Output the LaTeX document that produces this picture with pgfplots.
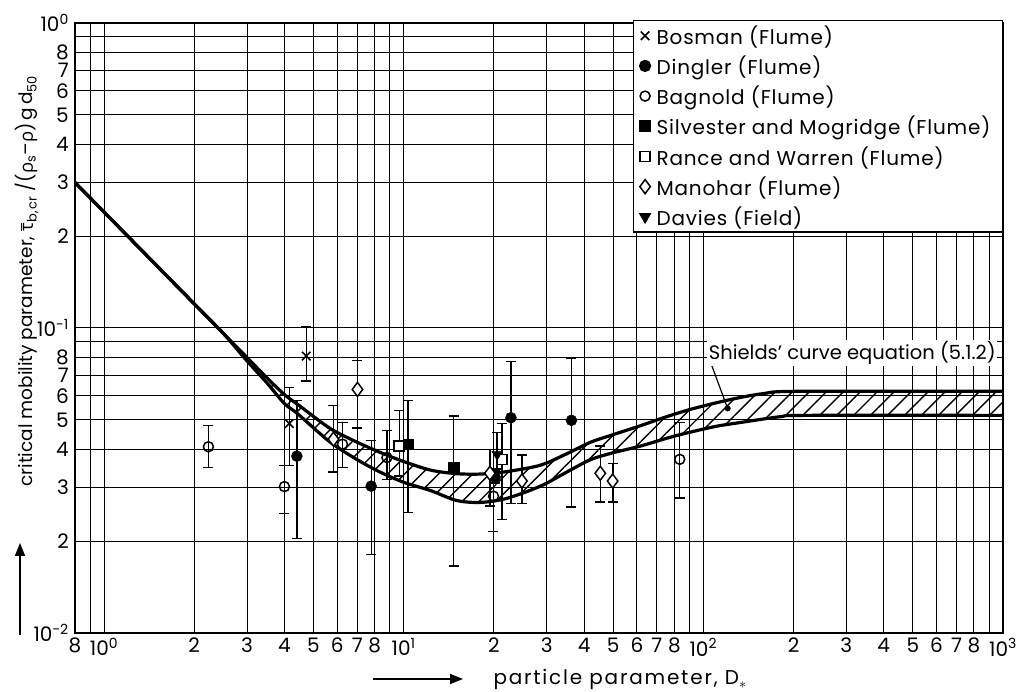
\documentclass[border=0pt]{standalone}
\usepackage{fontspec}
\setmainfont{Poppins}
\newfontfamily\wide[LetterSpace=4]{Poppins}
\newfontfamily\wider[LetterSpace=9]{Poppins}
\newfontfamily\gr{Open Sans}
\usepackage{pgfplots}
\usepackage{pgfplotstable}
\pgfplotsset{compat=1.18}
\usepgfplotslibrary{fillbetween}
\usetikzlibrary{patterns.meta,arrows.meta}
\newcommand\tp[1]{10\textsuperscript{#1}}

\pgfplotstableread{
x y lo hi
4.15 0.0486 0.0355 0.0637
4.73 0.0809 0.0670 0.1010
}\bosman
\pgfplotstableread{
x y lo hi
4.40 0.0380 0.0204 0.0579
7.79 0.0303 0.0181 0.0428
20.2 0.0324 0.0310 0.0340
22.8 0.0508 0.0266 0.0778
36.3 0.0498 0.0259 0.0793
}\dingler
\pgfplotstableread{
x y lo hi
2.23 0.0408 0.0349 0.0480
4.00 0.0302 0.0246 0.0355
6.25 0.0416 0.0349 0.0489
8.79 0.0376 0.0319 0.0462
19.94 0.0281 0.0215 0.0327
83.4 0.0371 0.0277 0.0489
}\bagnold
\pgfplotstableread{
x y lo hi
10.33 0.0416 0.0248 0.0579
14.67 0.0349 0.0166 0.0514
}\silvester
\pgfplotstableread{
x y lo hi
9.66 0.0410 0.0327 0.0537
21.28 0.0371 0.0236 0.0487
}\rance
\pgfplotstableread{
x y lo hi
5.83 0.0432 0.0337 0.0557
7.01 0.0629 0.0470 0.0782
19.4 0.0334 0.0261 0.0400
24.8 0.0315 0.0266 0.0383
45.3 0.0334 0.0269 0.0410
49.8 0.0315 0.0269 0.0360
}\manohar
\pgfplotstableread{
x y lo hi
20.5 0.0385 0.0345 0.0455
}\davies

\pgfplotstableread{
x y
0.8 0.300
1 0.240
1.5 0.160
2 0.120
2.5 0.096
3 0.080
3.5 0.0686
4 0.0605
4.5 0.0555
5.69 0.0468
7 0.0422
8.4 0.0390
10 0.0365
12.3 0.0342
15 0.0333
18 0.0332
22 0.0338
28.6 0.0355
35 0.0387
42 0.0422
50 0.0447
61.6 0.0478
75 0.0511
90.5 0.0541
110 0.0568
133 0.0592
160 0.0610
206 0.0620
1000 0.0620
}\uppercurve
\pgfplotstableread{
x y
0.8 0.300
1 0.240
1.5 0.160
2 0.120
2.5 0.096
3 0.078
3.5 0.0660
4 0.0565
4.41 0.0525
5.69 0.0422
7 0.0370
8.34 0.0337
10 0.0312
12.3 0.0293
15 0.0272
18 0.0268
22 0.0276
28.6 0.0303
35 0.0337
42 0.0370
50 0.0390
61.6 0.0410
80 0.0442
108 0.0474
133 0.0490
181 0.0512
220 0.0517
1000 0.0517
}\lowercurve

\begin{document}
\begin{tikzpicture}
\begin{axis}[
  at={(0pt,0pt)}, anchor=south west,
  scale only axis, width=928pt, height=610pt,
  xmode=log, ymode=log,
  xmin=0.8, xmax=1000, ymin=0.01, ymax=1,
  xtick={0.8,1,2,3,4,5,6,7,8,10,20,30,40,50,60,70,80,100,200,300,400,500,600,700,800,1000},
  xticklabels={8,\tp{0},2,3,4,5,6,7,8,\tp{1},2,3,4,5,6,7,8,\tp{2},2,3,4,5,6,7,8,\tp{3}},
  minor xtick={0.9,9,90,900},
  ytick={0.01,0.02,0.03,0.04,0.05,0.06,0.07,0.08,0.1,0.2,0.3,0.4,0.5,0.6,0.7,0.8,1},
  yticklabels={\tp{-2},2,3,4,5,6,7,8,\tp{-1},2,3,4,5,6,7,8,\tp{0}},
  minor ytick={0.09,0.9},
  grid=both,
  major grid style={black, line width=1pt},
  minor grid style={black, line width=1pt},
  major tick length=0pt, minor tick length=0pt,
  axis line style={line width=2pt},
  tick label style={font=\fontsize{20}{21}\selectfont, inner ysep=0pt, inner xsep=1pt},
  xticklabel style={yshift=-5pt},
  yticklabel style={xshift=-5pt},
  legend style={at={(1,1)}, anchor=north east, draw=black, line width=1.3pt, fill=white,
    font=\wide\fontsize{20}{21}\selectfont, row sep=6pt, inner xsep=6pt, inner ysep=3pt,
    yshift=3pt, nodes={inner xsep=6pt}},
  legend cell align=left,
]
\addplot[name path=up, line width=3.2pt, smooth, forget plot] table {\uppercurve};
\addplot[name path=lo, line width=3.2pt, smooth, forget plot] table {\lowercurve};
\addplot[draw=none, pattern={Lines[angle=45,distance=12pt,line width=1.4pt]}, forget plot] fill between[of=up and lo];

\pgfplotsset{errs/.style={
  error bars/.cd, y dir=both, y explicit,
  error bar style={line width=1.3pt},
  error mark options={rotate=90, mark size=5pt, line width=1.3pt}}}

\addplot[only marks, mark=x, mark size=6pt, mark options={line width=1.6pt},
  errs] table[y error plus expr=\thisrow{hi}-\thisrow{y}, y error minus expr=\thisrow{y}-\thisrow{lo}] {\bosman};
\addlegendentry{Bosman (Flume)}
\addplot[only marks, mark=*, mark size=5.5pt, mark options={fill=black},
  errs] table[y error plus expr=\thisrow{hi}-\thisrow{y}, y error minus expr=\thisrow{y}-\thisrow{lo}] {\dingler};
\addlegendentry{Dingler (Flume)}
\addplot[only marks, mark=o, mark size=5pt, mark options={fill=white, line width=1.5pt},
  errs] table[y error plus expr=\thisrow{hi}-\thisrow{y}, y error minus expr=\thisrow{y}-\thisrow{lo}] {\bagnold};
\addlegendentry{Bagnold (Flume)}
\addplot[only marks, mark=square*, mark size=5.2pt, mark options={fill=black},
  errs] table[y error plus expr=\thisrow{hi}-\thisrow{y}, y error minus expr=\thisrow{y}-\thisrow{lo}] {\silvester};
\addlegendentry{Silvester and Mogridge (Flume)}
\addplot[only marks, mark=square*, mark size=5pt, mark options={fill=white, line width=1.5pt},
  errs] table[y error plus expr=\thisrow{hi}-\thisrow{y}, y error minus expr=\thisrow{y}-\thisrow{lo}] {\rance};
\addlegendentry{Rance and Warren (Flume)}
\addplot[only marks, mark=diamond*, mark size=7pt, mark options={fill=white, line width=1.5pt},
  errs] table[y error plus expr=\thisrow{hi}-\thisrow{y}, y error minus expr=\thisrow{y}-\thisrow{lo}] {\manohar};
\addlegendentry{Manohar (Flume)}
\addplot[only marks, mark=triangle*, mark size=6pt, mark options={fill=black, rotate=180},
  errs] table[y error plus expr=\thisrow{hi}-\thisrow{y}, y error minus expr=\thisrow{y}-\thisrow{lo}] {\davies};
\addlegendentry{Davies (Field)}

\addplot[only marks, mark=*, mark size=2.8pt, forget plot] coordinates {(120.5,0.0545)};
\draw[line width=1.2pt] (axis cs:105.5,0.0776) -- (axis cs:120.5,0.0545);
\node[anchor=west, fill=white, inner sep=1.5pt, font=\fontsize{19.5}{20}\selectfont]
  at (axis cs:103,0.0826) {Shields' curve equation (5.1.2)};
\end{axis}
\node[rotate=90, anchor=base west, font=\fontsize{18.5}{20}\selectfont] at (-42pt,143pt)
  {critical mobility parameter, $\overline{\hbox{\gr τ}}$\textsubscript{b,\,cr} /({\gr ρ}\textsubscript{s}--{\gr ρ})\,g\,d\textsubscript{50}};
\draw[line width=1.8pt, -{Triangle[length=13pt,width=10pt]}] (-55pt,-2pt) -- (-55pt,90pt);
\draw[line width=1.8pt, -{Triangle[length=13pt,width=10pt]}] (298pt,-46pt) -- (388pt,-46pt);
\node[anchor=base west, font=\wider\fontsize{20}{21}\selectfont] at (415pt,-52pt)
  {particle parameter, D\textsubscript{$\ast$}};
\pgfresetboundingbox
\path (-75pt,-59pt) rectangle (953pt,633pt);
\end{tikzpicture}
\end{document}
